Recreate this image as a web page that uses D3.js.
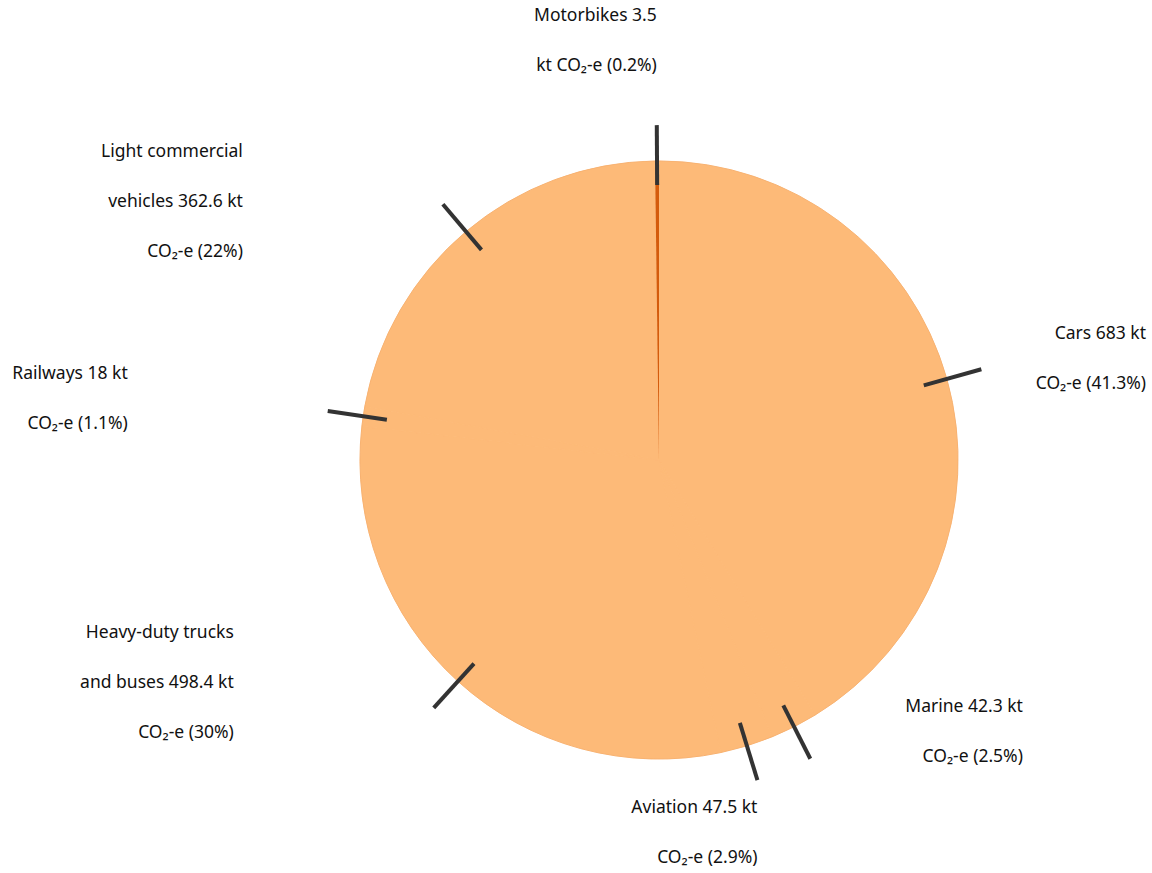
<!DOCTYPE html>
<html>
<head>
<meta charset="utf-8">
<script src="https://cdn.jsdelivr.net/npm/d3@7"></script>
<style>
  html, body { margin: 0; padding: 0; background: #ffffff; }
  svg { display: block; }
  text { font-family: "Noto Sans", "Open Sans", sans-serif; font-size: 17.5px; fill: #111; }
</style>
</head>
<body>
<svg id="chart" width="1152" height="873"></svg>
<script>
// ---- data (clockwise from 12 o'clock) ----
const categories = ["Cars", "Marine", "Aviation", "Heavy-duty trucks and buses", "Railways", "Light commercial vehicles", "Motorbikes"];
const values = [683, 42.3, 47.5, 498.4, 18, 362.6, 3.5];
const percents = [41.3, 2.5, 2.9, 30, 1.1, 22, 0.2];
const labelLines = [
  ["Cars 683 kt", "CO\u2082-e (41.3%)"],
  ["Marine 42.3 kt", "CO\u2082-e (2.5%)"],
  ["Aviation 47.5 kt", "CO\u2082-e (2.9%)"],
  ["Heavy-duty trucks", "and buses 498.4 kt", "CO\u2082-e (30%)"],
  ["Railways 18 kt", "CO\u2082-e (1.1%)"],
  ["Light commercial", "vehicles 362.6 kt", "CO\u2082-e (22%)"],
  ["Motorbikes 3.5", "kt CO\u2082-e (0.2%)"]
];
const highlighted = ["Motorbikes"];

// ---- layout ----
const W = 1152, H = 873;
const cx = 659, cy = 460, R = 299;
const baseColor = "#fdba78", highlightColor = "#d45b0c";

const data = categories.map((c, i) => ({ name: c, value: values[i], pct: percents[i], lines: labelLines[i] }));

const svg = d3.select("#chart");
const g = svg.append("g").attr("transform", `translate(${cx},${cy})`);

const pie = d3.pie().value(d => d.value).sort(null).startAngle(0).endAngle(2 * Math.PI);
const arcs = pie(data);
const arc = d3.arc().innerRadius(0).outerRadius(R);
const color = d3.scaleOrdinal().domain(categories)
  .range(categories.map(c => highlighted.includes(c) ? highlightColor : baseColor));

g.selectAll("path.slice").data(arcs).enter().append("path")
  .attr("class", "slice")
  .attr("d", arc)
  .attr("fill", d => color(d.data.name))
  .attr("stroke", d => highlighted.includes(d.data.name) ? "none" : color(d.data.name))
  .attr("stroke-width", 1);

g.append("circle").attr("r", R).attr("fill", "none")
  .attr("stroke", "#e9995a").attr("stroke-width", 0.6).attr("stroke-opacity", 0.45);

const polar = (r, a) => [r * Math.sin(a), -r * Math.cos(a)];
const lineH = 50;
const lineR = R * 1.12, textR = R * 1.07;

const labels = g.append("g");
arcs.forEach(d => {
  const a = (d.startAngle + d.endAngle) / 2;
  const p0 = polar(R * 0.92, a);
  const p1 = polar(lineR, a);
  const pt = polar(textR, a);
  g.append("line")
    .attr("x1", p0[0]).attr("y1", p0[1])
    .attr("x2", p1[0]).attr("y2", p1[1])
    .attr("stroke", "#333333").attr("stroke-width", 4);

  const lines = d.data.lines;
  const n = lines.length;
  const s = Math.sin(a), c = Math.cos(a);
  const tg = labels.append("g");
  const texts = tg.selectAll("text").data(lines).enter().append("text")
    .attr("text-anchor", "end")
    .attr("dy", "0.35em")
    .text(t => t);
  const maxW = d3.max(texts.nodes(), nd => nd.getComputedTextLength());
  let right, firstY;
  if (Math.abs(s) < 0.35) {
    right = p1[0];
    if (c > 0) firstY = p1[1] - 60 - lineH * (n - 1);
    else firstY = p1[1] + 27;
  } else if (s > 0) {
    right = Math.min(p1[0] + 95 + maxW, W - cx - 6);
    firstY = pt[1] - 15 - lineH * (n - 1) / 2;
  } else {
    right = Math.max(p1[0] - 200, -cx + 10 + maxW);
    firstY = pt[1] - 15 - lineH * (n - 1) / 2;
  }
  texts.attr("x", right).attr("y", (t, i) => firstY + i * lineH);
});
</script>
</body>
</html>
